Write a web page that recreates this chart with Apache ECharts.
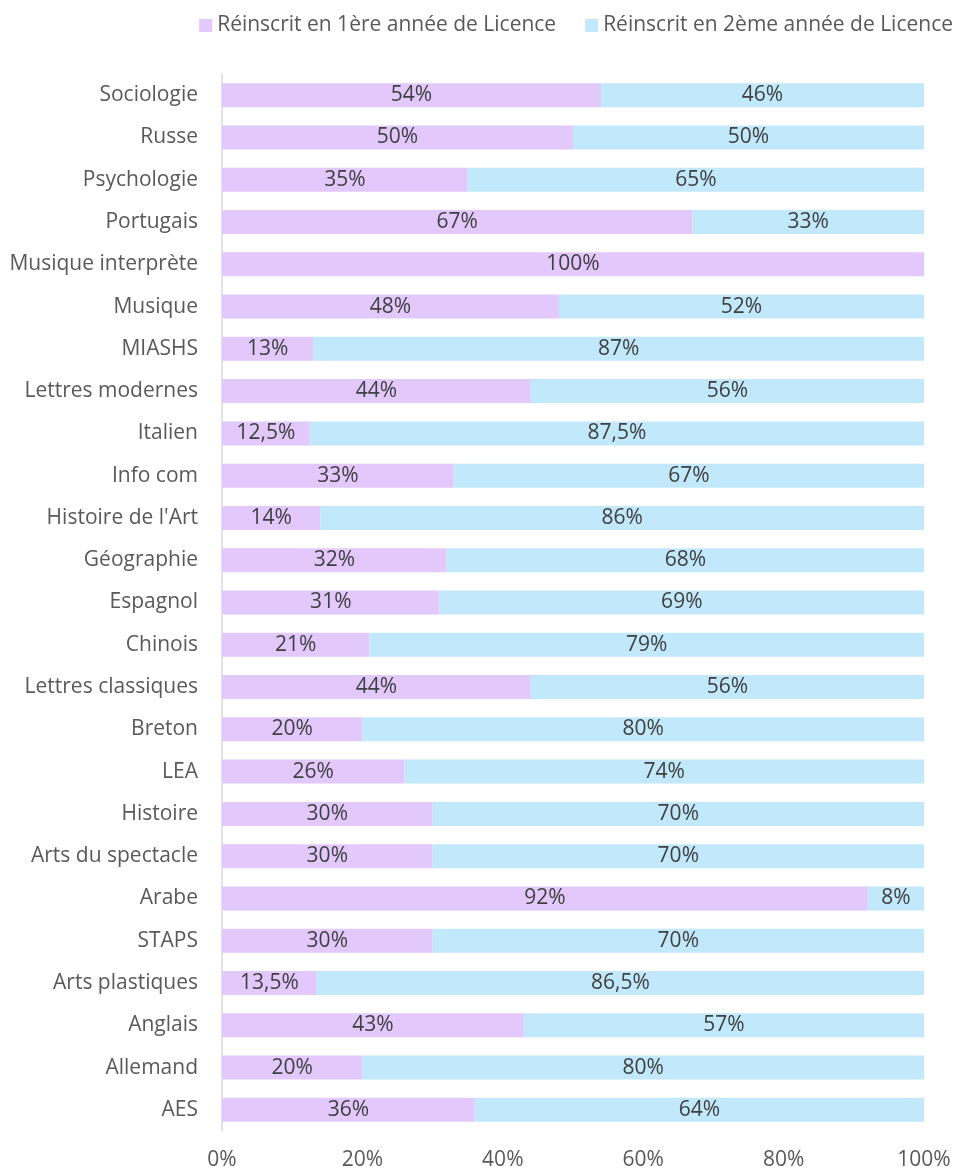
<!DOCTYPE html>
<html>
<head>
<meta charset="utf-8">
<script src="https://cdn.jsdelivr.net/npm/echarts@6/dist/echarts.min.js"></script>
<style>
  html, body { margin: 0; padding: 0; background: #fff; }
  #main { width: 961px; height: 1171px; }
</style>
</head>
<body>
<div id="main"></div>
<script>
// categories listed top to bottom, as in the picture
const categories = ['Sociologie', 'Russe', 'Psychologie', 'Portugais', 'Musique interprète', 'Musique',
  'MIASHS', 'Lettres modernes', 'Italien', 'Info com', "Histoire de l'Art", 'Géographie', 'Espagnol',
  'Chinois', 'Lettres classiques', 'Breton', 'LEA', 'Histoire', 'Arts du spectacle', 'Arabe', 'STAPS',
  'Arts plastiques', 'Anglais', 'Allemand', 'AES'];
const firstYear = [54, 50, 35, 67, 100, 48, 13, 44, 12.5, 33, 14, 32, 31, 21, 44, 20, 26, 30, 30, 92, 30, 13.5, 43, 20, 36];
const secondYear = [46, 50, 65, 33, 0, 52, 87, 56, 87.5, 67, 86, 68, 69, 79, 56, 80, 74, 70, 70, 8, 70, 86.5, 57, 80, 64];
const seriesNames = ['Réinscrit en 1ère année de Licence', 'Réinscrit en 2ème année de Licence'];

const font = '"Open Sans", sans-serif';
const pct = v => v === 0 ? '' : String(v).replace('.', ',') + '%';

const chart = echarts.init(document.getElementById('main'));
const option = {
  animation: false,
  textStyle: { fontFamily: font },
  legend: {
    top: 10,
    right: 3,
    icon: 'rect',
    itemWidth: 13,
    itemHeight: 13,
    itemGap: 29,
    textStyle: { fontSize: 21, color: '#595959', fontFamily: font }
  },
  grid: { left: 222, right: 37, top: 74, bottom: 40 },
  xAxis: {
    type: 'value',
    min: 0,
    max: 100,
    interval: 20,
    axisLine: { show: false },
    axisTick: { show: false },
    splitLine: { show: false },
    axisLabel: { formatter: v => v + '%', fontSize: 21, color: '#595959', margin: 19, fontFamily: font }
  },
  yAxis: {
    type: 'category',
    data: categories,
    inverse: true,
    axisLine: { show: true, lineStyle: { color: '#d9d9d9', width: 1.5 } },
    axisTick: { show: false },
    axisLabel: { fontSize: 21, color: '#595959', margin: 24, fontFamily: font }
  },
  series: [
    {
      name: seriesNames[0],
      type: 'bar',
      stack: 'total',
      data: firstYear,
      barWidth: 24,
      itemStyle: { color: '#e3c8fb' },
      label: { show: true, position: 'inside', formatter: p => pct(p.value), fontSize: 21, color: '#404040', fontFamily: font }
    },
    {
      name: seriesNames[1],
      type: 'bar',
      stack: 'total',
      data: secondYear,
      barWidth: 24,
      itemStyle: { color: '#c2e8fb' },
      label: { show: true, position: 'inside', formatter: p => pct(p.value), fontSize: 21, color: '#404040', fontFamily: font }
    }
  ]
};
chart.setOption(option);
</script>
</body>
</html>
